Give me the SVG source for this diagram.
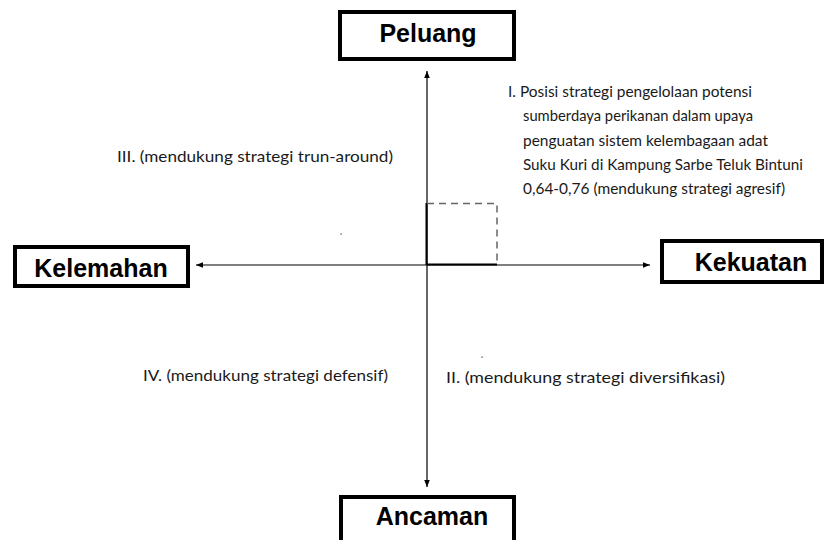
<svg xmlns="http://www.w3.org/2000/svg" width="824" height="540" viewBox="0 0 824 540">
<style>
.box{fill:#fff;stroke:#000;stroke-width:4}
.hd{font-family:"Liberation Sans",Arial,sans-serif;font-weight:bold;font-size:25px;fill:#000;text-anchor:middle}
.lb{font-family:Lato,"Liberation Sans",sans-serif;font-size:16px;fill:#1a1a1a}
.ax{stroke:#000;stroke-width:1.2;fill:none}
</style>
<defs>
<marker id="ar" viewBox="0 0 10 10" refX="10" refY="5" markerWidth="9" markerHeight="7" markerUnits="userSpaceOnUse" orient="auto">
<path d="M0,1 L10,5 L0,9 Z" fill="#000"/>
</marker>
</defs>
<rect width="824" height="540" fill="#fff"/>
<g id="connectors">
<line class="ax" x1="427" y1="265" x2="427" y2="71" marker-end="url(#ar)"/>
<line class="ax" x1="427" y1="265" x2="427" y2="487" marker-end="url(#ar)"/>
<line class="ax" x1="427" y1="265" x2="196" y2="265" marker-end="url(#ar)"/>
<line class="ax" x1="427" y1="265" x2="650" y2="265" marker-end="url(#ar)"/>
</g>
<g id="position">
<line x1="426.5" y1="203" x2="426.5" y2="265" stroke="#000" stroke-width="2"/>
<line x1="427" y1="264.5" x2="497" y2="264.5" stroke="#000" stroke-width="2"/>
<path d="M427,203.5 H497 V265" fill="none" stroke="#666" stroke-width="1.5" stroke-dasharray="7,5"/>
</g>
<g id="peluang">
<rect class="box" x="340" y="12" width="174" height="47"/>
<text class="hd" x="428" y="42">Peluang</text>
</g>
<g id="kelemahan">
<rect class="box" x="15" y="247" width="173" height="39"/>
<text class="hd" x="101" y="277">Kelemahan</text>
</g>
<g id="kekuatan">
<rect class="box" x="662" y="241" width="160" height="41"/>
<text class="hd" x="751" y="271">Kekuatan</text>
</g>
<g id="ancaman">
<rect class="box" x="341" y="497" width="173" height="47"/>
<text class="hd" x="432" y="525">Ancaman</text>
</g>
<g id="labels">
<text class="lb" x="508" y="97" textLength="244" lengthAdjust="spacingAndGlyphs">I. Posisi strategi pengelolaan potensi</text>
<text class="lb" x="523" y="121" textLength="230" lengthAdjust="spacingAndGlyphs">sumberdaya perikanan dalam upaya</text>
<text class="lb" x="523" y="146" textLength="245" lengthAdjust="spacingAndGlyphs">penguatan sistem kelembagaan adat</text>
<text class="lb" x="523" y="170" textLength="280" lengthAdjust="spacingAndGlyphs">Suku Kuri di Kampung Sarbe Teluk Bintuni</text>
<text class="lb" x="523" y="194" textLength="262" lengthAdjust="spacingAndGlyphs">0,64-0,76 (mendukung strategi agresif)</text>
<text class="lb" x="117" y="162" textLength="276" lengthAdjust="spacingAndGlyphs">III. (mendukung strategi trun-around)</text>
<text class="lb" x="143" y="381" textLength="245" lengthAdjust="spacingAndGlyphs">IV. (mendukung strategi defensif)</text>
<text class="lb" x="446" y="383" textLength="279" lengthAdjust="spacingAndGlyphs">II. (mendukung strategi diversifikasi)</text>
<rect x="340.5" y="233.5" width="1.2" height="1.2" fill="#333"/>
<rect x="481.5" y="356.5" width="1.2" height="1.2" fill="#333"/>
</g>
</svg>
